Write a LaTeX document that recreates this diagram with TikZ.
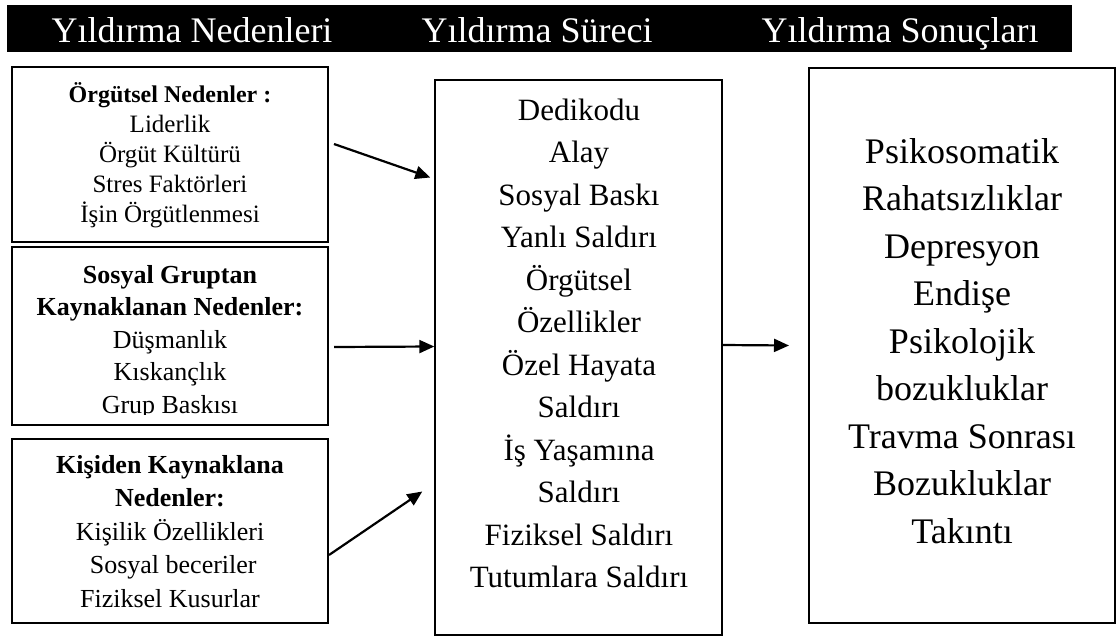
\documentclass[tikz,border=0pt]{standalone}
\usepackage{fontspec}
\setmainfont{Liberation Serif}
\usetikzlibrary{arrows.meta}
\begin{document}
\begin{tikzpicture}[x=1pt,y=-1pt,
  box/.style={draw, line width=2pt, rectangle, inner sep=0pt},
  arr/.style={line width=2.2pt, -{Triangle[length=15pt,width=13pt]}},
  txt/.style={align=center, inner sep=0pt, anchor=base},
  hdrtxt/.style={text=white, inner sep=0pt, anchor=base, font=\fontsize{36}{40}\selectfont}]
\useasboundingbox (0,0) rectangle (1118,637);
% header band
\node[fill=black, inner sep=0pt, minimum width=1065pt, minimum height=47pt, anchor=north west] (hdr) at (7,5) {};
\node[hdrtxt] (h1) at (192,42) {Yıldırma Nedenleri};
\node[hdrtxt] (h2) at (537,42) {Yıldırma Süreci};
\node[hdrtxt] (h3) at (900,42) {Yıldırma Sonuçları};
% boxes
\node[box, minimum width=316pt, minimum height=175pt] (b1) at (170,154.5) {};
\node[box, minimum width=316pt, minimum height=178pt] (b2) at (170,336) {};
\node[box, minimum width=316pt, minimum height=184pt] (b3) at (170,531) {};
\node[box, line width=1.4pt, minimum width=287pt, minimum height=555pt] (mid) at (578.5,357.5) {};
\node[box, minimum width=306pt, minimum height=555pt] (res) at (962,345.5) {};
% texts (anchor base = baseline of the last line)
\node[txt, font=\fontsize{25}{30}\selectfont] (t1) at (170,222)
  {{\fontsize{24}{30}\selectfont\bfseries Örgütsel Nedenler :}\\Liderlik\\Örgüt Kültürü\\Stres Faktörleri\\İşin Örgütlenmesi};
\begin{scope}
\clip (12,247) rectangle (328,414);
\node[txt, font=\fontsize{26}{32.5}\selectfont] (t2) at (170,413)
  {\textbf{Sosyal Gruptan}\\\textbf{Kaynaklanan Nedenler:}\\Düşmanlık\\Kıskançlık\\Grup Baskısı};
\end{scope}
\node[txt, font=\fontsize{26}{33.5}\selectfont] (t3) at (170,607)
  {\textbf{Kişiden Kaynaklana}\\\textbf{Nedenler:}\\Kişilik Özellikleri\\\ Sosyal beceriler\\Fiziksel Kusurlar};
\node[txt, font=\fontsize{31}{42.5}\selectfont] (tm) at (579,587.5)
  {Dedikodu\\Alay\\Sosyal Baskı\\Yanlı Saldırı\\Örgütsel\\Özellikler\\Özel Hayata\\Saldırı\\İş Yaşamına\\Saldırı\\Fiziksel Saldırı\\Tutumlara Saldırı};
\node[txt, font=\fontsize{36}{47.5}\selectfont] (tr) at (962,543)
  {Psikosomatik\\Rahatsızlıklar\\Depresyon\\Endişe\\Psikolojik\\bozukluklar\\Travma Sonrası\\Bozukluklar\\Takıntı};
% arrows
\draw[arr] ([xshift=5pt,yshift=10.5pt]b1.east) -- ([xshift=-4pt,yshift=180pt]mid.west);
\draw[arr] ([xshift=5pt,yshift=-11pt]b2.east) -- ([yshift=11pt]mid.west);
\draw[arr] ([yshift=-24pt]b3.east) -- ([xshift=-12pt,yshift=-134pt]mid.west);
\draw[arr] ([yshift=12.5pt]mid.east) -- ([xshift=-19pt]res.west);
\end{tikzpicture}
\end{document}
